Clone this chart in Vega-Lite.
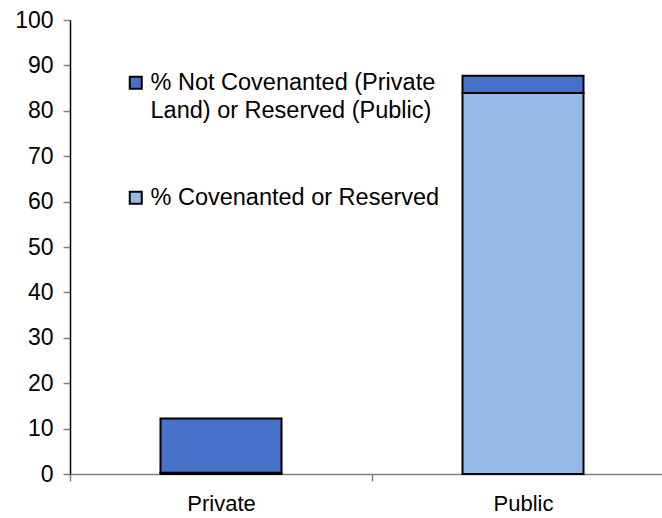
{
  "$schema": "https://vega.github.io/schema/vega-lite/v6.json",
  "autosize": {"type": "none"},
  "padding": {"left": 70, "top": 20, "right": 0, "bottom": 44},
  "width": 592,
  "height": 454,
  "background": "white",
  "config": {
    "view": {"stroke": null},
    "font": "Liberation Sans",
    "axis": {"labelFont": "Liberation Sans", "labelColor": "black", "grid": false, "title": null}
  },
  "data": {
    "values": [
      {"land": "Private", "category": "% Covenanted or Reserved", "value": 0.3, "order": 1},
      {"land": "Private", "category": "% Not Covenanted (Private Land) or Reserved (Public)", "value": 11.9, "order": 2},
      {"land": "Public", "category": "% Covenanted or Reserved", "value": 83.9, "order": 1},
      {"land": "Public", "category": "% Not Covenanted (Private Land) or Reserved (Public)", "value": 3.8, "order": 2}
    ]
  },
  "mark": {"type": "bar", "size": 121, "stroke": "black", "strokeWidth": 2},
  "encoding": {
    "x": {
      "field": "land",
      "type": "nominal",
      "scale": {"range": [0, 604], "paddingInner": 0, "paddingOuter": 0},
      "axis": {
        "labelAngle": 0,
        "labelFontSize": 22,
        "labelPadding": 12,
        "tickBand": "extent",
        "tickSize": 7,
        "tickColor": "#808080",
        "domainColor": "#808080",
        "domainWidth": 1.5,
        "tickWidth": 1.5
      }
    },
    "y": {
      "field": "value",
      "type": "quantitative",
      "stack": "zero",
      "scale": {"domain": [0, 100], "nice": false},
      "axis": {
        "values": [0, 10, 20, 30, 40, 50, 60, 70, 80, 90, 100],
        "labelFontSize": 23,
        "labelPadding": 10,
        "tickSize": 7,
        "tickColor": "#808080",
        "tickWidth": 1.5,
        "domainColor": "black",
        "domainWidth": 1.5
      }
    },
    "color": {
      "field": "category",
      "type": "nominal",
      "sort": ["% Not Covenanted (Private Land) or Reserved (Public)", "% Covenanted or Reserved"],
      "scale": {
        "domain": ["% Not Covenanted (Private Land) or Reserved (Public)", "% Covenanted or Reserved"],
        "range": ["#4770C8", "#96B9E8"]
      },
      "legend": {
        "title": null,
        "orient": "none",
        "legendX": 54,
        "legendY": 51,
        "symbolType": "square",
        "symbolSize": 144,
        "symbolStrokeColor": "black",
        "symbolStrokeWidth": 2,
        "symbolOpacity": 1,
        "labelFont": "Liberation Sans",
        "labelFontSize": 23.5,
        "labelColor": "black",
        "labelOffset": 3,
        "labelLimit": 400,
        "rowPadding": 62,
        "labelExpr": "datum.label == '% Covenanted or Reserved' ? datum.label : ['% Not Covenanted (Private', 'Land) or Reserved (Public)']",
        "encode": {"labels": {"update": {"lineHeight": {"value": 28}}}}
      }
    },
    "order": {"field": "order", "type": "quantitative"}
  }
}
